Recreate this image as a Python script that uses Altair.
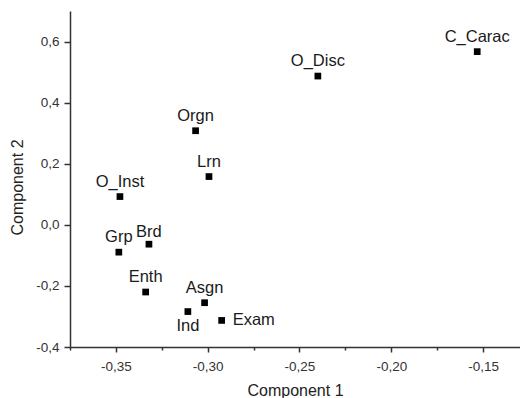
import altair as alt
import pandas as pd

names = ["C_Carac", "O_Disc", "Orgn", "Lrn", "O_Inst", "Grp", "Brd", "Enth", "Asgn", "Ind", "Exam"]
comp1 = [-0.1532, -0.2400, -0.3066, -0.2993, -0.3478, -0.3484, -0.3320, -0.3338, -0.3017, -0.3108, -0.2924]
comp2 = [0.567, 0.487, 0.308, 0.158, 0.0925, -0.0895, -0.0634, -0.220, -0.255, -0.284, -0.313]

x_ticks = [-0.375, -0.35, -0.325, -0.30, -0.275, -0.25, -0.225, -0.20, -0.175, -0.15]
y_ticks = [-0.4, -0.3, -0.2, -0.1, 0.0, 0.1, 0.2, 0.3, 0.4, 0.5, 0.6, 0.7]

below = ["Ind"]
right = ["Exam"]
close = ["Brd"]

df = pd.DataFrame({"name": names, "c1": comp1, "c2": comp2})

FONT = "Liberation Sans"
xs = alt.Scale(domain=[-0.375, -0.1299], nice=False, zero=False)
ys = alt.Scale(domain=[-0.4, 0.7], nice=False, zero=False)

minus = "\u2212"
x_major = "abs(round(datum.value*200) % 2) == 0"
y_major = "abs(round(datum.value*10) % 2) == 0"
x_label = (x_major + " ? replace(replace(format(datum.value, '.2f'), '.', ','), '" + minus + "', '-') : ''")
y_label = (y_major + " ? replace(replace(format(datum.value, '.1f'), '.', ','), '" + minus + "', '-') : ''")

common = dict(grid=False, domainColor="#333333", domainWidth=1.5, tickColor="#333333",
              tickWidth=1.5, labelFont=FONT, labelFontSize=13.5, labelColor="#333333",
              titleFont=FONT, titleFontSize=16, titleFontWeight="normal", titleColor="#222222")

x_axis = alt.Axis(values=x_ticks, labelExpr=x_label, orient="bottom", title="Component 1",
                  tickSize={"condition": {"test": x_major, "value": 5}, "value": 3},
                  labelPadding=7, titlePadding=10, **common)
y_axis = alt.Axis(values=y_ticks, labelExpr=y_label, orient="left", title="Component 2",
                  tickSize={"condition": {"test": y_major, "value": 6}, "value": 3},
                  labelPadding=5, titlePadding=10, titleY=176, **common)

base = alt.Chart(df)

points = base.mark_square(size=45, color="black", opacity=1).encode(
    x=alt.X("c1:Q", scale=xs, axis=x_axis),
    y=alt.Y("c2:Q", scale=ys, axis=y_axis),
)

txt = dict(font=FONT, fontSize=16.5, color="#1a1a1a", baseline="middle")

def enc():
    return dict(x=alt.X("c1:Q", scale=xs), y=alt.Y("c2:Q", scale=ys), text="name:N")

above_lbl = base.transform_filter(
    ~alt.FieldOneOfPredicate(field="name", oneOf=below + right + close)
).mark_text(dy=-15, align="center", **txt).encode(**enc())

close_lbl = base.transform_filter(
    alt.FieldOneOfPredicate(field="name", oneOf=close)
).mark_text(dy=-12, align="center", **txt).encode(**enc())

below_lbl = base.transform_filter(
    alt.FieldOneOfPredicate(field="name", oneOf=below)
).mark_text(dy=14, align="center", **txt).encode(**enc())

right_lbl = base.transform_filter(
    alt.FieldOneOfPredicate(field="name", oneOf=right)
).mark_text(dx=11, dy=0, align="left", **txt).encode(**enc())

chart = alt.layer(points, above_lbl, close_lbl, below_lbl, right_lbl).properties(
    width=450, height=336,
    autosize=alt.AutoSizeParams(type="none"),
    padding={"left": 62, "top": 3, "right": 0, "bottom": 51},
).configure_view(stroke=None)

chart.save("out.html", embed_options={"renderer": "svg", "actions": False})
